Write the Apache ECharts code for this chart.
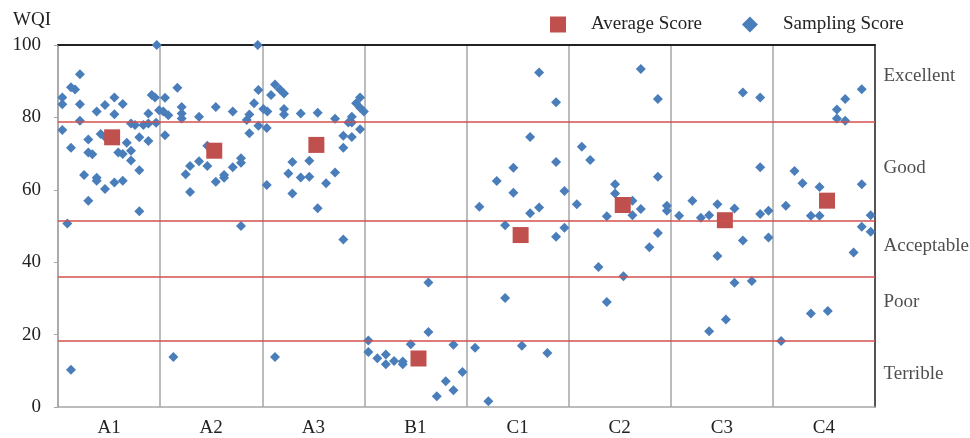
<!DOCTYPE html>
<html>
<head>
<meta charset="utf-8">
<script src="https://cdn.jsdelivr.net/npm/echarts@6/dist/echarts.min.js"></script>
<style>
  html, body { margin: 0; padding: 0; background: #fff; }
  #chart { width: 970px; height: 438px; }
</style>
</head>
<body>
<div id="chart"></div>
<script>
// sites along the river
const sites = ["A1", "A2", "A3", "B1", "C1", "C2", "C3", "C4"];

// sampling scores per site: [offset inside the site column, WQI]
const sampA1 = [[0.967,100],[0.215,91.9],[0.127,88.3],[0.167,87.7],[0.042,85.5],[0.042,83.6],[0.215,83.6],[0.552,85.5],[0.46,83.4],[0.379,81.6],[0.552,80.9],[0.634,83.7],[0.918,86.2],[0.95,85.5],[0.885,81.1],[0.215,79.1],[0.042,76.5],[0.715,78.3],[0.754,77.9],[0.836,77.9],[0.885,78.3],[0.96,78.5],[0.418,75.4],[0.46,74.6],[0.297,73.9],[0.673,73.0],[0.796,74.5],[0.885,73.5],[0.127,71.6],[0.715,70.8],[0.297,70.3],[0.336,69.8],[0.59,70.3],[0.634,69.9],[0.715,68.1],[0.796,65.4],[0.255,64.1],[0.379,63.3],[0.379,62.5],[0.46,60.2],[0.552,62.0],[0.634,62.5],[0.297,57.0],[0.796,54.1],[0.091,50.7],[0.127,10.3],[0.99,82.0]];
const sampA2 = [[0.956,100],[0.169,88.2],[0.048,85.4],[0.962,87.6],[0.92,83.9],[0.031,81.6],[0.08,80.6],[0.211,82.9],[0.211,81.1],[0.211,79.7],[0.381,80.2],[0.545,82.9],[0.711,81.6],[0.874,80.8],[0.848,79.3],[0.962,77.7],[0.048,75.1],[0.874,75.6],[0.462,72.2],[0.25,64.3],[0.293,66.6],[0.381,67.9],[0.462,66.6],[0.293,59.4],[0.545,62.2],[0.626,64.1],[0.626,63.3],[0.711,66.2],[0.792,68.7],[0.792,67.5],[0.792,50.0],[0.13,13.8]];
const sampA3 = [[0.125,89.1],[0.174,87.7],[0.213,86.6],[0.086,86.2],[0.011,82.3],[0.05,81.6],[0.213,82.3],[0.213,80.8],[0.377,81.1],[0.543,81.3],[0.713,79.6],[0.877,80.2],[0.843,78.6],[0.877,78.6],[0.958,85.5],[0.919,83.9],[0.958,82.7],[0.995,81.6],[0.044,77.1],[0.794,74.9],[0.877,74.6],[0.958,76.7],[0.794,71.6],[0.295,67.7],[0.461,68.0],[0.256,64.5],[0.377,63.4],[0.461,63.6],[0.713,64.8],[0.625,61.8],[0.044,61.3],[0.295,59.0],[0.543,54.9],[0.794,46.3],[0.125,13.8]];
const sampB1 = [[0.627,34.4],[0.627,20.7],[0.039,18.4],[0.454,17.3],[0.872,17.2],[0.039,15.2],[0.127,13.5],[0.21,14.5],[0.21,11.8],[0.291,12.7],[0.376,12.6],[0.376,11.8],[0.96,9.7],[0.797,7.1],[0.872,4.6],[0.709,3.0]];
const sampC1 = [[0.711,92.4],[0.877,84.2],[0.623,74.6],[0.877,67.7],[0.459,66.1],[0.296,62.4],[0.459,59.2],[0.959,59.7],[0.126,55.3],[0.623,53.5],[0.711,55.1],[0.378,50.2],[0.959,49.5],[0.877,47.0],[0.378,30.1],[0.084,16.4],[0.542,16.9],[0.792,14.9],[0.214,1.6]];
const sampC2 = [[0.707,93.4],[0.874,85.1],[0.129,71.9],[0.211,68.2],[0.874,63.6],[0.455,61.5],[0.455,59.0],[0.625,57.0],[0.08,56.0],[0.707,54.7],[0.625,53.0],[0.374,52.7],[0.962,55.6],[0.962,54.2],[0.874,48.1],[0.292,38.7],[0.537,36.1],[0.374,29.0],[0.791,44.1]];
const sampC3 = [[0.706,86.9],[0.876,85.5],[0.876,66.2],[0.212,57.0],[0.457,56.0],[0.624,54.8],[0.082,52.8],[0.295,52.3],[0.376,53.0],[0.876,53.3],[0.957,54.2],[0.706,46.0],[0.957,46.8],[0.457,41.7],[0.624,34.3],[0.794,34.8],[0.54,24.2],[0.376,20.9]];
const sampC4 = [[0.87,87.8],[0.708,85.1],[0.627,82.2],[0.627,79.7],[0.708,79.1],[0.212,65.2],[0.29,61.8],[0.457,60.8],[0.87,61.5],[0.127,55.6],[0.372,52.8],[0.457,52.8],[0.958,53.0],[0.87,49.8],[0.958,48.4],[0.79,42.7],[0.372,25.8],[0.538,26.5],[0.081,18.2]];
const samplingBySite = [sampA1, sampA2, sampA3, sampB1, sampC1, sampC2, sampC3, sampC4];

// average score per site
const averageScores = [74.5, 70.8, 72.4, 13.4, 47.5, 55.8, 51.6, 57.0];

// class limits and class names
const classLimits = [78.7, 51.4, 36.1, 18.4];
const classNames = ["Excellent", "Good", "Acceptable", "Poor", "Terrible"];
const classLabelY = [91.4, 65.9, 44.6, 29.1, 9.0];

const yTicks = [0, 20, 40, 60, 80, 100];

const serif = "'Liberation Serif', 'Times New Roman', serif";
const fs = 19;

const samplingData = [];
samplingBySite.forEach((pts, i) => {
  pts.forEach(p => samplingData.push([i + p[0], p[1]]));
});
const averageData = averageScores.map((v, i) => [i + 0.53, v]);
const classData = classNames.map((n, i) => ({ value: [sites.length, classLabelY[i]], name: n }));

const chart = echarts.init(document.getElementById("chart"));

chart.setOption({
  animation: false,
  title: {
    text: "WQI",
    left: 8,
    top: 6,
    textStyle: { fontFamily: serif, fontSize: fs, fontWeight: "normal", color: "#222" }
  },
  legend: {
    data: ["Average Score", "Sampling Score"],
    left: 545,
    top: 10,
    itemGap: 40,
    itemWidth: 16,
    itemHeight: 16,
    textStyle: { fontFamily: serif, fontSize: fs, color: "#222", padding: [0, 0, 0, 20] }
  },
  grid: { left: 58, right: 95, top: 45, bottom: 31 },
  xAxis: [
    {
      type: "value",
      min: 0,
      max: sites.length,
      position: "top",
      axisLine: { show: true, onZero: false, lineStyle: { color: "#222", width: 2 } },
      axisTick: { show: false },
      axisLabel: { show: false },
      splitLine: { show: false }
    },
    {
      type: "category",
      data: sites,
      boundaryGap: true,
      position: "bottom",
      axisLine: { show: true, onZero: false, lineStyle: { color: "#a6a6a6", width: 1.5 } },
      axisTick: { show: false },
      axisLabel: { fontFamily: serif, fontSize: fs, color: "#222", margin: 12 },
      splitLine: { show: true, lineStyle: { color: "#a6a6a6", width: 1.5 } }
    }
  ],
  yAxis: [
    {
      type: "value",
      min: yTicks[0],
      max: yTicks[yTicks.length - 1],
      interval: 20,
      axisLine: { show: true, onZero: false, lineStyle: { color: "#a6a6a6", width: 1.5 } },
      axisTick: { show: true, length: 4, lineStyle: { color: "#a6a6a6" } },
      axisLabel: { fontFamily: serif, fontSize: fs, color: "#222", margin: 17 },
      splitLine: { show: false }
    },
    {
      type: "value",
      min: 0,
      max: 100,
      position: "right",
      axisLine: { show: true, onZero: false, lineStyle: { color: "#333", width: 1.5 } },
      axisTick: { show: false },
      axisLabel: { show: false },
      splitLine: { show: false }
    }
  ],
  series: [
    {
      name: "classes",
      type: "scatter",
      xAxisIndex: 0,
      yAxisIndex: 0,
      z: 1,
      symbolSize: 1,
      itemStyle: { color: "rgba(0,0,0,0)" },
      silent: true,
      data: classData,
      label: {
        show: true,
        position: "right",
        distance: 8,
        formatter: p => p.name,
        fontFamily: serif,
        fontSize: fs,
        color: "#222"
      },
      markLine: {
        silent: true,
        symbol: "none",
        label: { show: false },
        lineStyle: { color: "#d2504e", width: 1.5, type: "solid" },
        data: classLimits.map(v => ({ yAxis: v }))
      }
    },
    {
      name: "Sampling Score",
      type: "scatter",
      xAxisIndex: 0,
      yAxisIndex: 0,
      z: 3,
      symbol: "diamond",
      symbolSize: 10,
      itemStyle: { color: "#4a7ebb", opacity: 1 },
      data: samplingData
    },
    {
      name: "Average Score",
      type: "scatter",
      xAxisIndex: 0,
      yAxisIndex: 0,
      z: 4,
      symbol: "rect",
      symbolSize: 16,
      itemStyle: { color: "#c0504d", opacity: 1 },
      data: averageData
    }
  ]
});
</script>
</body>
</html>
